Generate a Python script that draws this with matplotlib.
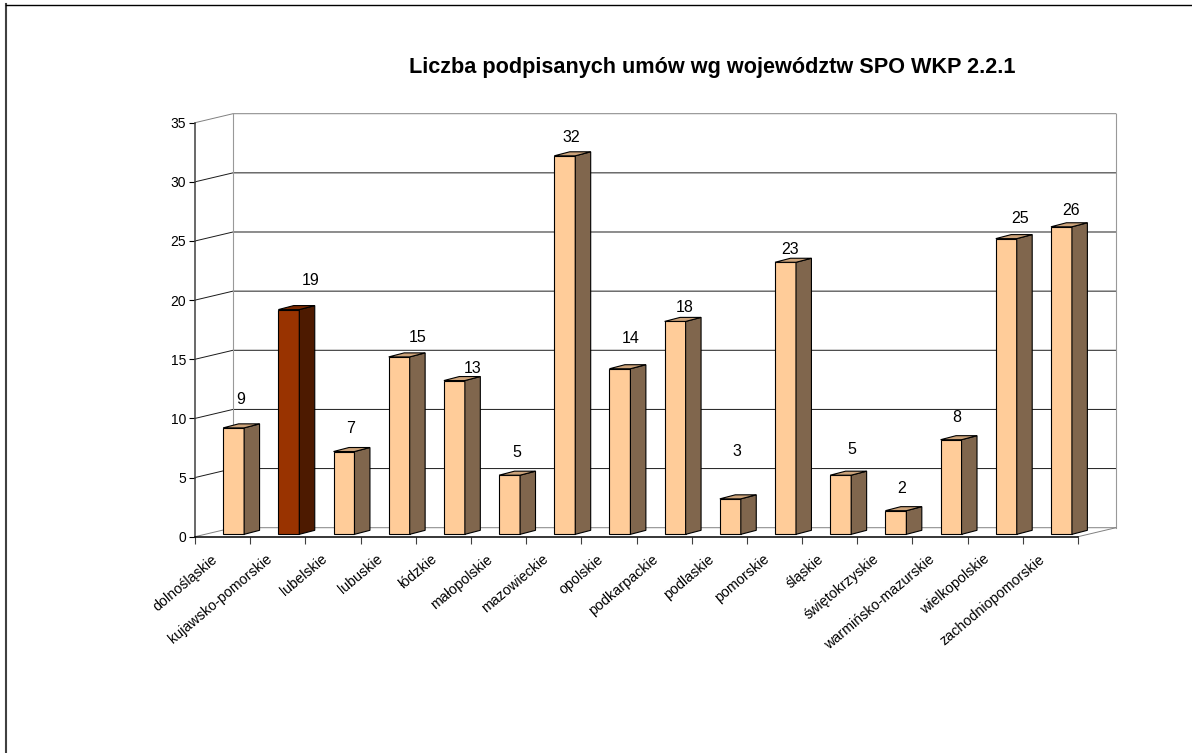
import matplotlib
matplotlib.use('Agg')
import matplotlib.pyplot as plt
from matplotlib.lines import Line2D
from matplotlib.patches import Polygon
from matplotlib.transforms import ScaledTranslation

plt.rcParams['font.family'] = ['Liberation Sans', 'DejaVu Sans']

wojewodztwa = ['dolnośląskie', 'kujawsko-pomorskie', 'lubelskie', 'lubuskie', 'łódzkie',
               'małopolskie', 'mazowieckie', 'opolskie', 'podkarpackie', 'podlaskie',
               'pomorskie', 'śląskie', 'świętokrzyskie', 'warmińsko-mazurskie',
               'wielkopolskie', 'zachodniopomorskie']
umowy = [9, 19, 7, 15, 13, 5, 32, 14, 18, 3, 23, 5, 2, 8, 25, 26]
y_ticks = [0, 5, 10, 15, 20, 25, 30, 35]
wyrozniony = 'kujawsko-pomorskie'

# label shifts in pixels, the original ones are placed rather unevenly
label_dx = [-3, 12, -3, 8, 8, -3, -3, 1, 0, -3, -5, 1, -4, -4, 4, 0]
label_dy = [28, 29, 23, 19, 12, 23, 18, 30, 14, 47, 13, 26, 22, 22, 20, 16]

W, H = 1192, 753
wall_dx, wall_dy = 0.688, 0.76   # depth of the back wall
bar_dx, bar_dy = 0.28, 0.34      # depth of one bar
bar_off, bar_w, bar_base = 0.51, 0.38, 0.2

fig = plt.figure(figsize=(W / 100, H / 100), dpi=100)
ax = fig.add_axes([195 / W, 1 - 536.7 / H, (1078 - 195) / W, (536.7 - 122.7) / H])
n = len(umowy)
ax.set_xlim(0, n)
ax.set_ylim(0, 35)

# frame around the picture, only top and left are visible
fig.add_artist(Line2D([6 / W, 6 / W], [0, 1 - 4 / H], color='#404040', lw=1.5))
fig.add_artist(Line2D([6 / W, 1], [1 - 4.5 / H, 1 - 4.5 / H], color='black', lw=1.0))

# wall and floor
for v in y_ticks:
    c = '#808080' if v in (0, 35) else '#1a1a1a'
    ax.plot([0, wall_dx, n + wall_dx], [v, v + wall_dy, v + wall_dy], color=c, lw=0.7,
            clip_on=False, zorder=1)
ax.plot([wall_dx, wall_dx], [wall_dy, 35 + wall_dy], color='#999999', lw=0.8, clip_on=False, zorder=1)
ax.plot([n + wall_dx, n + wall_dx], [wall_dy, 35 + wall_dy], color='#999999', lw=0.8, clip_on=False, zorder=1)
ax.plot([n, n + wall_dx], [0, wall_dy], color='#808080', lw=0.7, clip_on=False, zorder=1)

# bars
for i, (name, v) in enumerate(zip(wojewodztwa, umowy)):
    if name == wyrozniony:
        front, side, top = '#993300', '#4d1a00', '#7a2900'
    else:
        front, side, top = '#ffcc99', '#80664d', '#cca37a'
    x0 = i + bar_off
    x1 = x0 + bar_w
    y0 = bar_base
    y1 = bar_base + v
    ax.add_patch(Polygon([(x0, y0), (x1, y0), (x1, y1), (x0, y1)], fc=front, ec='black', lw=0.8, zorder=3, clip_on=False))
    ax.add_patch(Polygon([(x1, y0), (x1 + bar_dx, y0 + bar_dy), (x1 + bar_dx, y1 + bar_dy), (x1, y1)],
                         fc=side, ec='black', lw=0.8, zorder=3, clip_on=False))
    ax.add_patch(Polygon([(x0, y1), (x1, y1), (x1 + bar_dx, y1 + bar_dy), (x0 + bar_dx, y1 + bar_dy)],
                         fc=top, ec='black', lw=0.8, zorder=3, clip_on=False))
    ax.annotate(str(v), (x0 + bar_w / 2 + bar_dx / 2 + 0.04, y1), xytext=(label_dx[i], label_dy[i]),
                textcoords='offset pixels', ha='center', va='center', fontsize=11.5, zorder=4)

for s in ('top', 'right'):
    ax.spines[s].set_visible(False)
ax.spines['left'].set_color('#404040')
ax.spines['left'].set_linewidth(1.1)
ax.spines['bottom'].set_color('black')
ax.spines['bottom'].set_linewidth(1.1)
ax.spines['bottom'].set_zorder(5)

ax.set_yticks(y_ticks)
ax.tick_params(axis='y', length=4.5, width=0.8, pad=2, labelsize=10)
ax.set_xticks(range(n + 1))
ax.set_xticklabels([])
ax.tick_params(axis='x', which='major', length=5, width=0.8, color='#404040')
ax.set_xticks([i + 0.5 for i in range(n)], minor=True)
ax.set_xticklabels(wojewodztwa, minor=True, rotation=40, ha='right', va='top',
                   rotation_mode='anchor', fontsize=10.3)
ax.tick_params(axis='x', which='minor', length=0, pad=11)
for lab in ax.get_xticklabels(minor=True):
    lab.set_transform(lab.get_transform() + ScaledTranslation(-12 / 100, 0, fig.dpi_scale_trans))

fig.text(712.5 / W, 1 - 67 / H, 'Liczba podpisanych umów wg województw SPO WKP 2.2.1',
         ha='center', va='center', fontsize=15.6, fontweight='bold')

fig.savefig('out.png', dpi=100)
